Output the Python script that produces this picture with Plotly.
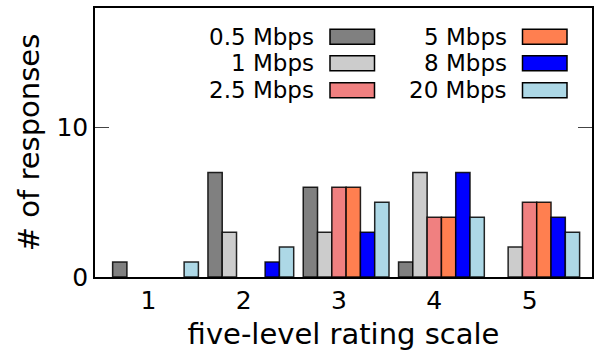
import plotly.graph_objects as go

categories = [1, 2, 3, 4, 5]
tick_labels = ["1", "2", "3", "4", "5"]
series_names = ["0.5 Mbps", "1 Mbps", "2.5 Mbps", "5 Mbps", "8 Mbps", "20 Mbps"]
resp_05 = [1, 7, 6, 1, 0]
resp_1 = [0, 3, 3, 7, 2]
resp_25 = [0, 0, 6, 4, 5]
resp_5 = [0, 0, 6, 4, 5]
resp_8 = [0, 1, 3, 7, 4]
resp_20 = [1, 2, 5, 4, 3]
series_values = [resp_05, resp_1, resp_25, resp_5, resp_8, resp_20]
colors = ["#808080", "#cccccc", "#f08080", "#ff7f50", "#0000ff", "#add8e6"]

W, H = 595, 356
L, R, T, B = 95, 3, 8, 79
FONT = "DejaVu Sans"

bar_w = 0.15
fig = go.Figure()
for j, (name, vals, col) in enumerate(zip(series_names, series_values, colors)):
    # zero-count bars are not drawn (no outline on the baseline)
    shown = [v if v != 0 else None for v in vals]
    fig.add_trace(go.Bar(
        x=categories, y=shown, name=name,
        width=bar_w, offset=-0.375 + j * bar_w,
        marker=dict(color=col, line=dict(color="rgba(0,0,0,0.85)", width=1.5)),
        showlegend=False,
    ))

# manual legend (text right-aligned left of swatch, two columns)
pw, ph = W - L - R, H - T - B
def px_x(x):
    return (x - L) / pw
def px_y(y):
    return 1 - (y - T) / ph

col_swatch_left = [330, 522.5]
swatch_w, swatch_h = 44.5, 15
row_centers = [36.7, 63.3, 90.2]
for j, (name, col) in enumerate(zip(series_names, colors)):
    c, r = divmod(j, 3)
    x0 = col_swatch_left[c]
    yc = row_centers[r]
    fig.add_shape(type="rect", xref="paper", yref="paper",
                  x0=px_x(x0), x1=px_x(x0 + swatch_w),
                  y0=px_y(yc + swatch_h / 2), y1=px_y(yc - swatch_h / 2),
                  fillcolor=col, line=dict(color="black", width=1.5), layer="above")
    fig.add_annotation(xref="paper", yref="paper",
                       x=px_x(x0 - 14), y=px_y(yc),
                       xanchor="right", yanchor="middle", showarrow=False,
                       text=name, font=dict(family=FONT, size=23, color="black"))

fig.update_layout(
    width=W, height=H,
    margin=dict(l=L, r=R, t=T, b=B, pad=0),
    paper_bgcolor="white", plot_bgcolor="white",
    barmode="overlay",
    font=dict(family=FONT, size=25, color="black"),
    xaxis=dict(
        range=[0.44, 5.655], tickmode="array", tickvals=categories, ticktext=tick_labels,
        ticks="", showgrid=False, zeroline=False,
        showline=True, linecolor="black", linewidth=1.5, mirror=True,
        tickfont=dict(family=FONT, size=25), automargin=False,
        title=dict(text="five-level rating scale", font=dict(family=FONT, size=29), standoff=10),
    ),
    yaxis=dict(
        range=[0, 18], tickvals=[0, 10], ticktext=["0", "10"],
        ticks="inside", ticklen=14, tickwidth=1.3, tickcolor="#444",
        showgrid=False, zeroline=False,
        showline=True, linecolor="black", linewidth=1.5, mirror="ticks",
        tickfont=dict(family=FONT, size=25), automargin=False,
        title=dict(text="# of responses", font=dict(family=FONT, size=29), standoff=8),
    ),
)

fig.write_html("out.html")
